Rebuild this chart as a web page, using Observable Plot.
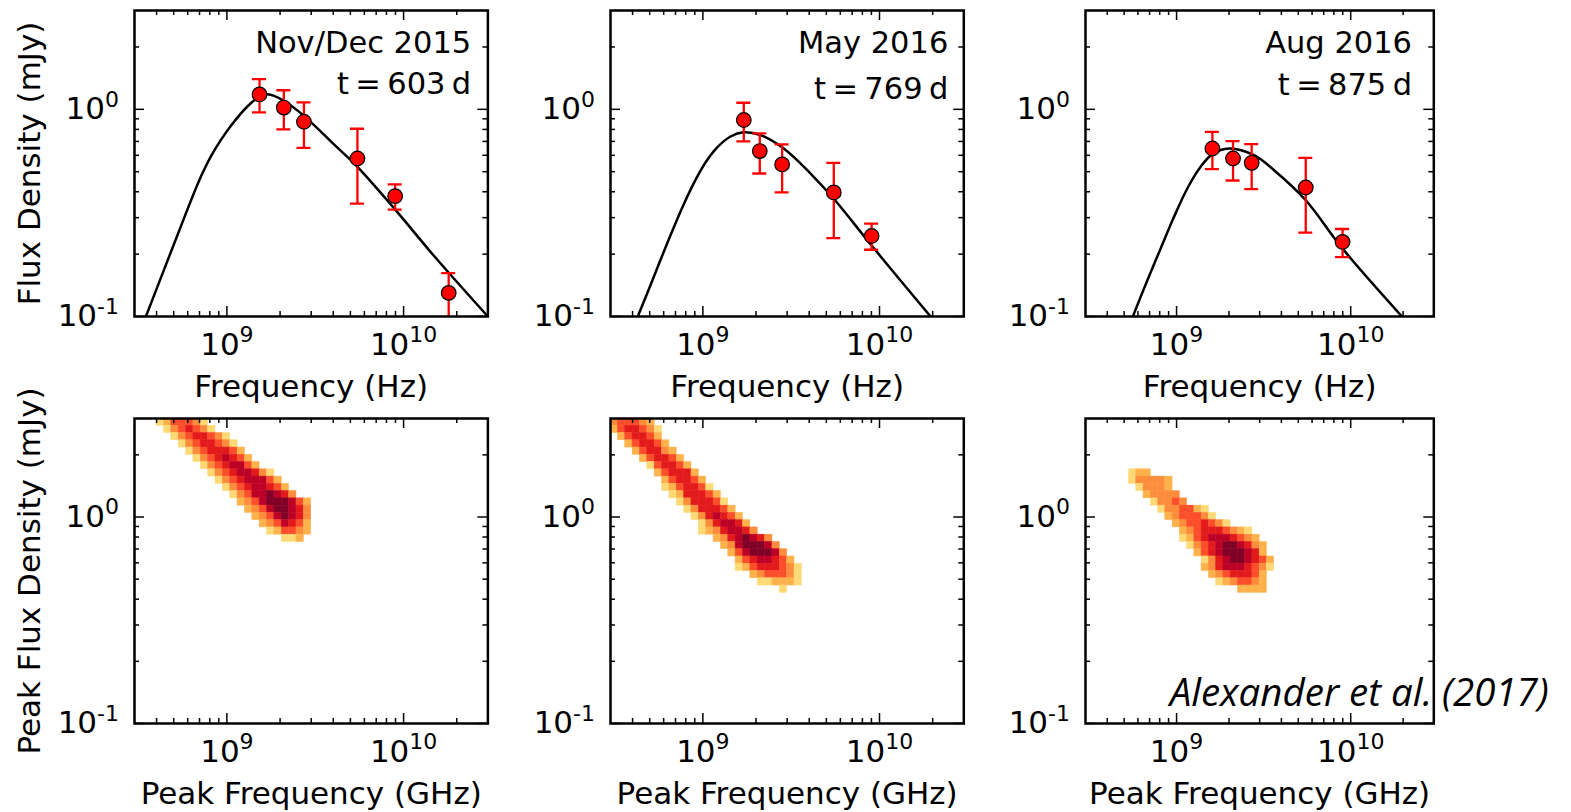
<!DOCTYPE html>
<html><head><meta charset="utf-8">
<script src="https://cdn.jsdelivr.net/npm/d3@7"></script>
<script src="https://cdn.jsdelivr.net/npm/@observablehq/plot@0.6"></script>
<style>
html,body{margin:0;padding:0;background:#fff;}
#root{position:relative;width:1571px;height:812px;overflow:hidden;background:#fff;}
#root svg{position:absolute;}
</style></head><body><div id="root"></div>
<script>
// ---------------- data ----------------
const freqDomain = [3e8, 3e10];
const fluxDomain = [0.1, 3];
const xMajor = [1e9, 1e10];
const xTickLabels = ["10^9", "10^10"];
const xMinor = [4e8,5e8,6e8,7e8,8e8,9e8,2e9,3e9,4e9,5e9,6e9,7e9,8e9,9e9,2e10];
const yMajor = [0.1, 1];
const yTickLabels = ["10^-1", "10^0"];
const yMinor = [0.2,0.3,0.4,0.5,0.6,0.7,0.8,0.9,2];

const epochNames = ["Nov/Dec 2015", "May 2016", "Aug 2016"];
const epochTimes = ["t = 603 d", "t = 769 d", "t = 875 d"];

// observed points: frequency (Hz), flux (mJy), error low, error high
const obsFreq1 = [1.53e9, 2.10e9, 2.73e9, 5.48e9, 8.96e9, 1.80e10];
const obsFlux1 = [1.18, 1.02, 0.871, 0.579, 0.381, 0.130];
const obsLo1   = [0.967, 0.80, 0.652, 0.351, 0.328, 0.098];
const obsHi1   = [1.40, 1.236, 1.08, 0.806, 0.434, 0.162];

const obsFreq2 = [1.705e9, 2.10e9, 2.81e9, 5.51e9, 9.02e9];
const obsFlux2 = [0.888, 0.629, 0.542, 0.397, 0.2446];
const obsLo2   = [0.700, 0.490, 0.397, 0.239, 0.210];
const obsHi2   = [1.076, 0.765, 0.677, 0.552, 0.281];

const obsFreq3 = [1.606e9, 2.11e9, 2.70e9, 5.52e9, 8.98e9];
const obsFlux3 = [0.647, 0.579, 0.552, 0.4195, 0.229];
const obsLo3   = [0.514, 0.4534, 0.4115, 0.254, 0.1936];
const obsHi3   = [0.779, 0.703, 0.679, 0.583, 0.2645];

// model curves
const curveFreq1 = [3.48e8,4.14e8,4.92e8,5.73e8,6.53e8,7.28e8,8.12e8,9.25e8,1.054e9,1.31e9,1.50e9,1.70e9,2.10e9,2.73e9,4.05e9,5.48e9,8.97e9,1.48e10,3.0e10];
const curveFlux1 = [0.100,0.1465,0.2142,0.2992,0.397,0.4929,0.5934,0.7121,0.8337,1.035,1.138,1.182,1.10,0.93,0.675,0.528,0.328,0.197,0.100];
const curveFreq2 = [4.28e8,5.05e8,5.76e8,6.71e8,7.64e8,8.89e8,1.035e9,1.206e9,1.434e9,1.705e9,2.12e9,2.87e9,4.07e9,5.51e9,9.02e9,1.946e10];
const curveFlux2 = [0.100,0.1415,0.1878,0.2587,0.3353,0.4406,0.5535,0.6548,0.7393,0.775,0.751,0.647,0.49,0.37,0.22,0.100];
const curveFreq3 = [5.61e8,6.79e8,8.10e8,9.66e8,1.153e9,1.375e9,1.606e9,2.0e9,2.785e9,3.63e9,5.52e9,8.98e9,1.97e10];
const curveFlux3 = [0.100,0.1493,0.2126,0.302,0.4148,0.5277,0.608,0.647,0.601,0.5085,0.364,0.2126,0.100];

// 2D histogram bins: 48 log bins in frequency over [3e8,3e10], 42 log bins in flux over [0.1,3] (row 0 = top)
const histXBins = 48;
const histYBins = 42;
// each row: [first column, density levels 0..7 per cell]
const heatRowOffset = [0, 0, 7];
const heat1 = [
  [3,"1244431"],[4,"1345431"],[5,"13455431"],[6,"13455431"],[7,"13455542"],
  [8,"13456542"],[9,"13456642"],[10,"134566531"],[11,"134566642"],[12,"134566542"],
  [13,"134667653"],[14,"2346777642"],[15,"234677653"],[16,"23467653"],[17,"2346542"],
  [18,"124432"],[20,"112"]
];
const heat2 = [
  [0,"344432"],[0,"2455431"],[1,"245542"],[2,"245542"],[3,"245532"],[4,"245542"],
  [5,"145542"],[6,"245552"],[7,"245542"],[7,"1245541"],[8,"1255542"],[9,"1355541"],
  [10,"1355542"],[11,"1356542"],[12,"1356652"],[12,"12356653"],[14,"23567653"],
  [15,"23677763"],[16,"24677763"],[17,"24566542"],[17,"124555431"],[19,"2344431"],
  [20,"112221"],[23,"1"]
];
const heat3 = [
  [6,"122"],[6,"133332"],[7,"13332"],[8,"23333"],[9,"13343"],[10,"1334421"],
  [11,"2344431"],[12,"23445431"],[13,"2345554321"],[13,"12456665432"],
  [14,"13456776532"],[15,"2456777652"],[16,"1356776542"],[16,"2356665431"],
  [17,"23455542"],[18,"1234432"],[21,"2222"]
];
const levelColors = ["#ffeda0","#fed976","#feb24c","#fd8d3c","#fc4e2a","#e31a1c","#bd0026","#800026"];

// ---------------- layout ----------------
const FONT = "DejaVu Sans";
const COLS = [{L:134.3, W:353.4}, {L:610, W:353.3}, {L:1085, W:348.3}];
const ROWS = [{T:10, H:306}, {T:418.3, H:305}];
const root = document.getElementById("root");

function zipObs(f, s, lo, hi) { return f.map((v, i) => ({f: v, s: s[i], lo: lo[i], hi: hi[i]})); }
function zipCurve(f, s) { return f.map((v, i) => ({f: v, s: s[i]})); }
function heatCells(rows, offset) {
  const x0 = Math.log10(freqDomain[0]), xs = (Math.log10(freqDomain[1]) - x0) / histXBins;
  const yTop = Math.log10(fluxDomain[1]), ys = (yTop - Math.log10(fluxDomain[0])) / histYBins;
  const out = [];
  rows.forEach(([c0, lev], r) => {
    const j = r + offset;
    [...lev].forEach((ch, k) => {
      const i = c0 + k;
      out.push({x1: 10 ** (x0 + i * xs), x2: 10 ** (x0 + (i + 1) * xs),
                y1: 10 ** (yTop - (j + 1) * ys), y2: 10 ** (yTop - j * ys), c: levelColors[+ch]});
    });
  });
  return out;
}

function postText(svg) {
  svg.querySelectorAll("text").forEach(t => {
    const s = t.textContent;
    if (s.startsWith("t = ")) t.setAttribute("word-spacing", "-3.3");
    const k = s.indexOf("^");
    if (k < 0) return;
    t.textContent = s.slice(0, k);
    const ts = document.createElementNS("http://www.w3.org/2000/svg", "tspan");
    ts.setAttribute("dy", "-12.5");
    ts.setAttribute("font-size", "22");
    ts.textContent = s.slice(k + 1);
    t.appendChild(ts);
  });
}

function tickMarks(W, H) {
  const st = {stroke: "black", strokeWidth: 1.5};
  const M = 10, m = 5;
  return [
    Plot.ruleX(xMajor, {x: d => d, insetTop: H - M, ...st}),
    Plot.ruleX(xMajor, {x: d => d, insetBottom: H - M, ...st}),
    Plot.ruleX(xMinor, {x: d => d, insetTop: H - m, ...st}),
    Plot.ruleX(xMinor, {x: d => d, insetBottom: H - m, ...st}),
    Plot.ruleY(yMajor, {y: d => d, insetRight: W - M, ...st}),
    Plot.ruleY(yMajor, {y: d => d, insetLeft: W - M, ...st}),
    Plot.ruleY(yMinor, {y: d => d, insetRight: W - m, ...st}),
    Plot.ruleY(yMinor, {y: d => d, insetLeft: W - m, ...st})
  ];
}

function makePanel(col, row, marks, labels) {
  const {L, W} = COLS[col], {T, H} = ROWS[row];
  const mL = 130, mR = 20, mT = 10, mB = 92;
  const svg = Plot.plot({
    width: mL + W + mR, height: mT + H + mB,
    marginLeft: mL, marginRight: mR, marginTop: mT, marginBottom: mB,
    x: {type: "log", domain: freqDomain, axis: null},
    y: {type: "log", domain: fluxDomain, axis: null},
    style: {background: "transparent", overflow: "visible", fontFamily: FONT, color: "black"},
    marks: [
      ...marks,
      ...tickMarks(W, H),
      Plot.frame({stroke: "black", strokeWidth: 2.5}),
      Plot.text(xMajor, {x: d => d, text: (d, i) => xTickLabels[i], frameAnchor: "bottom", textAnchor: "middle", lineAnchor: "bottom", dy: 38.3, fontSize: 31, fill: "black"}),
      Plot.text(yMajor, {y: d => d, text: (d, i) => yTickLabels[i], frameAnchor: "left", textAnchor: "end", lineAnchor: "middle", dx: -15.5, fontSize: 31, fill: "black"}),
      ...labels
    ]
  });
  svg.style.position = "absolute";
  svg.style.left = (L - mL) + "px";
  svg.style.top = (T - mT) + "px";
  svg.style.overflow = "visible";
  root.appendChild(svg);
  postText(svg);
}

const obsSets = [zipObs(obsFreq1, obsFlux1, obsLo1, obsHi1), zipObs(obsFreq2, obsFlux2, obsLo2, obsHi2), zipObs(obsFreq3, obsFlux3, obsLo3, obsHi3)];
const curveSets = [zipCurve(curveFreq1, curveFlux1), zipCurve(curveFreq2, curveFlux2), zipCurve(curveFreq3, curveFlux3)];
const heatSets = [heatCells(heat1, heatRowOffset[0]), heatCells(heat2, heatRowOffset[1]), heatCells(heat3, heatRowOffset[2])];
const annDx = [-16.7, -15.5, -21.8];
const annDy2 = [84, 89, 85];

for (let c = 0; c < 3; c++) {
  const obs = obsSets[c];
  const red = {stroke: "#ff0000", strokeWidth: 2.3, clip: true};
  const topMarks = [
    Plot.line(curveSets[c], {x: "f", y: "s", stroke: "black", strokeWidth: 2.5, curve: "catmull-rom", clip: true}),
    Plot.ruleX(obs, {x: "f", y1: "lo", y2: "hi", ...red}),
    Plot.ruleY(obs, {y: "hi", x1: "f", x2: "f", insetLeft: -7, insetRight: -7, ...red}),
    Plot.ruleY(obs, {y: "lo", x1: "f", x2: "f", insetLeft: -7, insetRight: -7, ...red}),
    Plot.dot(obs, {x: "f", y: "s", r: 7.3, fill: "#ff0000", stroke: "black", strokeWidth: 1.2})
  ];
  const topLabels = [
    Plot.text([epochNames[c]], {frameAnchor: "top-right", textAnchor: "end", lineAnchor: "bottom", dx: annDx[c], dy: 42.3, fontSize: 30.5, fill: "black"}),
    Plot.text([epochTimes[c]], {frameAnchor: "top-right", textAnchor: "end", lineAnchor: "bottom", dx: annDx[c], dy: annDy2[c], fontSize: 30.5, fill: "black"}),
    Plot.text(["Frequency (Hz)"], {frameAnchor: "bottom", textAnchor: "middle", lineAnchor: "bottom", dy: 81, fontSize: 31, fill: "black"})
  ];
  if (c === 0) topLabels.push(Plot.text(["Flux Density (mJy)"], {frameAnchor: "left", textAnchor: "middle", rotate: -90, lineAnchor: "bottom", dx: -95, fontSize: 31, fill: "black"}));
  makePanel(c, 0, topMarks, topLabels);

  const botMarks = [
    Plot.rect(heatSets[c], {x1: "x1", x2: "x2", y1: "y1", y2: "y2", fill: "c", stroke: "c", strokeWidth: 0.5, clip: true})
  ];
  const botLabels = [
    Plot.text(["Peak Frequency (GHz)"], {frameAnchor: "bottom", textAnchor: "middle", lineAnchor: "bottom", dy: 81, fontSize: 31, fill: "black"})
  ];
  if (c === 0) botLabels.push(Plot.text(["Peak Flux Density (mJy)"], {frameAnchor: "left", textAnchor: "middle", rotate: -90, lineAnchor: "bottom", dx: -95, fontSize: 31, fill: "black"}));
  if (c === 2) botLabels.push(Plot.text(["Alexander et al. (2017)"], {frameAnchor: "bottom-right", textAnchor: "end", lineAnchor: "bottom", dx: 115, dy: -17, fontSize: 38.5, fontFamily: "Open Sans", fontStyle: "italic", fill: "black"}));
  makePanel(c, 1, botMarks, botLabels);
}
</script></body></html>
